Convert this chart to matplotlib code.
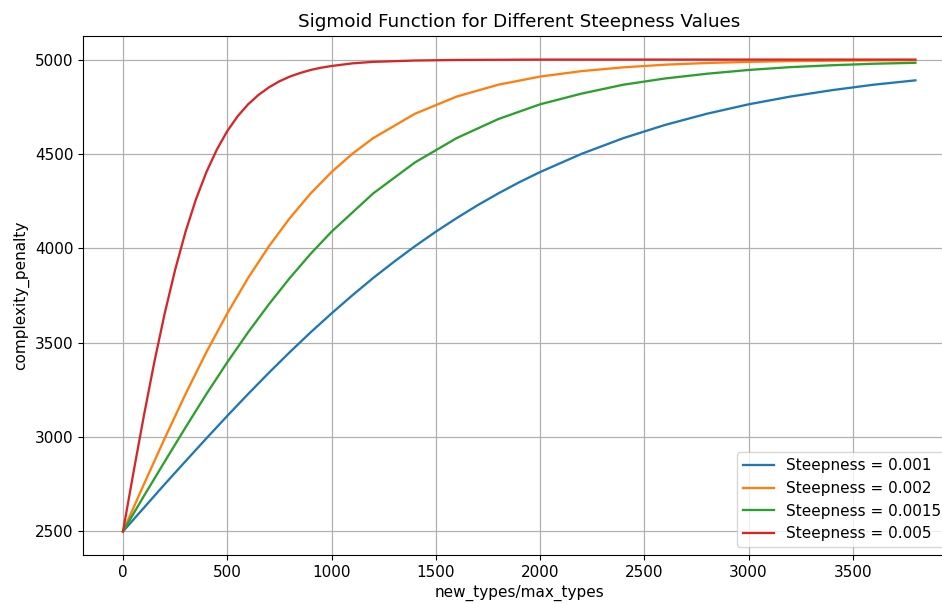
import matplotlib.pyplot as plt

# complexity_penalty curves, one per steepness value
x_k0010 = [0, 100, 200, 300, 400, 500, 600, 700, 800, 900, 1000, 1100, 1200,
           1300, 1400, 1500, 1600, 1700, 1800, 1900, 2000, 2200, 2400, 2600,
           2800, 3000, 3200, 3400, 3600, 3800]
y_k0010 = [2500, 2625, 2750, 2872, 2993, 3112, 3228, 3341, 3450, 3555, 3655,
           3751, 3843, 3929, 4011, 4088, 4160, 4228, 4291, 4350, 4404, 4501,
           4584, 4654, 4713, 4763, 4804, 4838, 4867, 4890]

x_k0015 = [0, 100, 200, 300, 400, 500, 600, 700, 800, 900, 1000, 1200, 1400,
           1600, 1800, 2000, 2200, 2400, 2600, 2800, 3000, 3200, 3400, 3600,
           3800]
y_k0015 = [2500, 2687, 2870, 3051, 3228, 3396, 3555, 3704, 3843, 3971, 4088,
           4291, 4455, 4584, 4685, 4763, 4820, 4867, 4900, 4925, 4945, 4960,
           4970, 4978, 4983]

x_k0020 = [0, 100, 200, 300, 400, 500, 600, 700, 800, 900, 1000, 1100, 1200,
           1400, 1600, 1800, 2000, 2200, 2400, 2600, 2800, 3000, 3200, 3400,
           3600, 3800]
y_k0020 = [2500, 2749, 2993, 3228, 3450, 3655, 3843, 4011, 4160, 4291, 4404,
           4501, 4584, 4713, 4804, 4867, 4910, 4939, 4959, 4973, 4982, 4988,
           4992, 4994, 4996, 4997]

x_k0050 = [0, 50, 100, 150, 200, 250, 300, 350, 400, 450, 500, 550, 600, 650,
           700, 750, 800, 850, 900, 950, 1000, 1100, 1200, 1400, 1600, 1800,
           2000, 2400, 2800, 3200, 3600, 3800]
y_k0050 = [2500, 2811, 3112, 3396, 3655, 3886, 4088, 4260, 4404, 4523, 4621,
           4700, 4763, 4813, 4853, 4885, 4910, 4929, 4945, 4957, 4966, 4980,
           4988, 4995, 4998, 4999, 5000, 5000, 5000, 5000, 5000, 5000]

labels = ["Steepness = 0.001", "Steepness = 0.002",
          "Steepness = 0.0015", "Steepness = 0.005"]

plt.rcParams["font.size"] = 11
plt.rcParams["lines.linewidth"] = 1.65
plt.rcParams["grid.linewidth"] = 0.88

fig = plt.figure(figsize=(9.42, 6.04), dpi=100)
ax = fig.add_axes([0.0885, 0.0811, 0.9253, 0.8593])

ax.plot(x_k0010, y_k0010, label=labels[0])
ax.plot(x_k0020, y_k0020, label=labels[1])
ax.plot(x_k0015, y_k0015, label=labels[2])
ax.plot(x_k0050, y_k0050, label=labels[3])

ax.set_title("Sigmoid Function for Different Steepness Values",
             fontsize=13.2, pad=6.6)
ax.set_xlabel("new_types/max_types")
ax.set_ylabel("complexity_penalty")
ax.grid(True)
ax.legend(loc="lower right")

plt.savefig("out.png", dpi=100)
